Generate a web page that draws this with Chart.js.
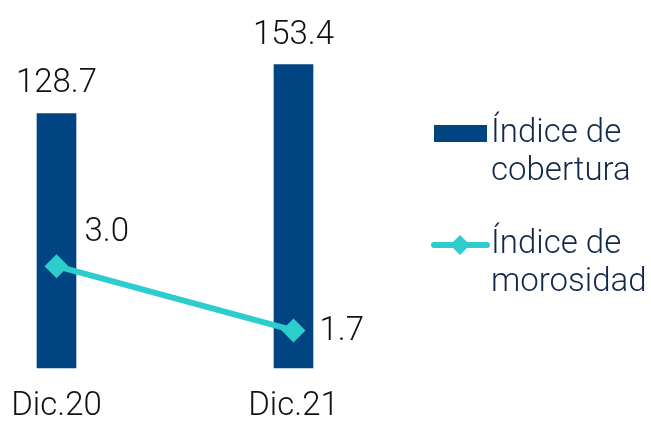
<!DOCTYPE html>
<html lang="es">
<head>
<meta charset="UTF-8">
<title>Índice de cobertura y morosidad</title>
<script src="https://cdn.jsdelivr.net/npm/chart.js"></script>
<style>
  html, body { margin: 0; padding: 0; background: #ffffff; }
  #wrap { width: 651px; height: 421px; }
</style>
</head>
<body>
<div id="wrap"><canvas id="chart" width="651" height="421"></canvas></div>
<script>
const labels = ['Dic.20', 'Dic.21'];
const cobertura = [128.7, 153.4];
const morosidad = [3.0, 1.7];
const seriesNames = [['Índice de', 'cobertura'], ['Índice de', 'morosidad']];

const NAVY = '#004481';
const AQUA = '#2DCCCD';
const FONT = '300 33px Roboto, "Liberation Sans", sans-serif';

// value labels above bars / beside points, plus category labels under the bars
const valueLabels = {
  id: 'valueLabels',
  afterDatasetsDraw(chart) {
    const ctx = chart.ctx;
    ctx.save();
    ctx.font = FONT;
    ctx.fillStyle = '#111111';
    const bars = chart.getDatasetMeta(1).data;
    bars.forEach((el, i) => {
      ctx.textAlign = 'center';
      ctx.textBaseline = 'alphabetic';
      ctx.fillText(cobertura[i].toFixed(1), el.x, el.y - 21);
    });
    const pts = chart.getDatasetMeta(0).data;
    pts.forEach((el, i) => {
      ctx.textAlign = 'left';
      if (i === 0) {
        ctx.textBaseline = 'alphabetic';
        ctx.fillText(morosidad[i].toFixed(1), el.x + 28, el.y - 25);
      } else {
        ctx.textBaseline = 'middle';
        ctx.fillText(morosidad[i].toFixed(1), el.x + 26, el.y + 1);
      }
    });
    // category labels
    const xs = chart.scales.x;
    ctx.textAlign = 'center';
    ctx.textBaseline = 'middle';
    labels.forEach((lab, i) => {
      ctx.fillText(lab, xs.getPixelForValue(i), chart.chartArea.bottom + 39);
    });
    ctx.restore();
  }
};

// legend on the right, two-line labels
const sideLegend = {
  id: 'sideLegend',
  afterDraw(chart) {
    const ctx = chart.ctx;
    ctx.save();
    // bar swatch
    ctx.fillStyle = NAVY;
    ctx.fillRect(434, 125, 53, 17);
    // line swatch with diamond
    ctx.strokeStyle = AQUA;
    ctx.lineWidth = 6;
    ctx.lineCap = 'round';
    ctx.beginPath();
    ctx.moveTo(434, 245);
    ctx.lineTo(487, 245);
    ctx.stroke();
    ctx.fillStyle = AQUA;
    ctx.beginPath();
    ctx.moveTo(460, 235);
    ctx.lineTo(470, 245);
    ctx.lineTo(460, 255);
    ctx.lineTo(450, 245);
    ctx.closePath();
    ctx.fill();
    // text
    ctx.font = FONT;
    ctx.fillStyle = '#12284a';
    ctx.textAlign = 'left';
    ctx.textBaseline = 'middle';
    ctx.fillText(seriesNames[0][0], 491, 134);
    ctx.fillText(seriesNames[0][1], 491, 172);
    ctx.fillText(seriesNames[1][0], 491, 245);
    ctx.fillText(seriesNames[1][1], 491, 283);
    ctx.restore();
  }
};

new Chart(document.getElementById('chart'), {
  data: {
    labels: labels,
    datasets: [{
      type: 'line',
      label: seriesNames[1].join(' '),
      data: morosidad,
      yAxisID: 'y1',
      borderColor: AQUA,
      backgroundColor: AQUA,
      borderWidth: 6,
      pointStyle: 'rectRot',
      pointRadius: 12,
      pointBackgroundColor: AQUA,
      pointBorderWidth: 0,
      clip: false,
      order: 0
    }, {
      type: 'bar',
      label: seriesNames[0].join(' '),
      data: cobertura,
      yAxisID: 'y',
      backgroundColor: NAVY,
      barThickness: 39,
      clip: false,
      order: 1
    }]
  },
  options: {
    responsive: false,
    devicePixelRatio: 1,
    animation: false,
    layout: { padding: { left: 56.5, right: 357.5, top: 8, bottom: 53 } },
    plugins: { legend: { display: false }, tooltip: { enabled: false } },
    scales: {
      x: { display: false, offset: false },
      y: { display: false, min: 0, max: 180 },
      y1: { display: false, min: 0.94, max: 8.14 }
    }
  },
  plugins: [valueLabels, sideLegend]
});
</script>
</body>
</html>
